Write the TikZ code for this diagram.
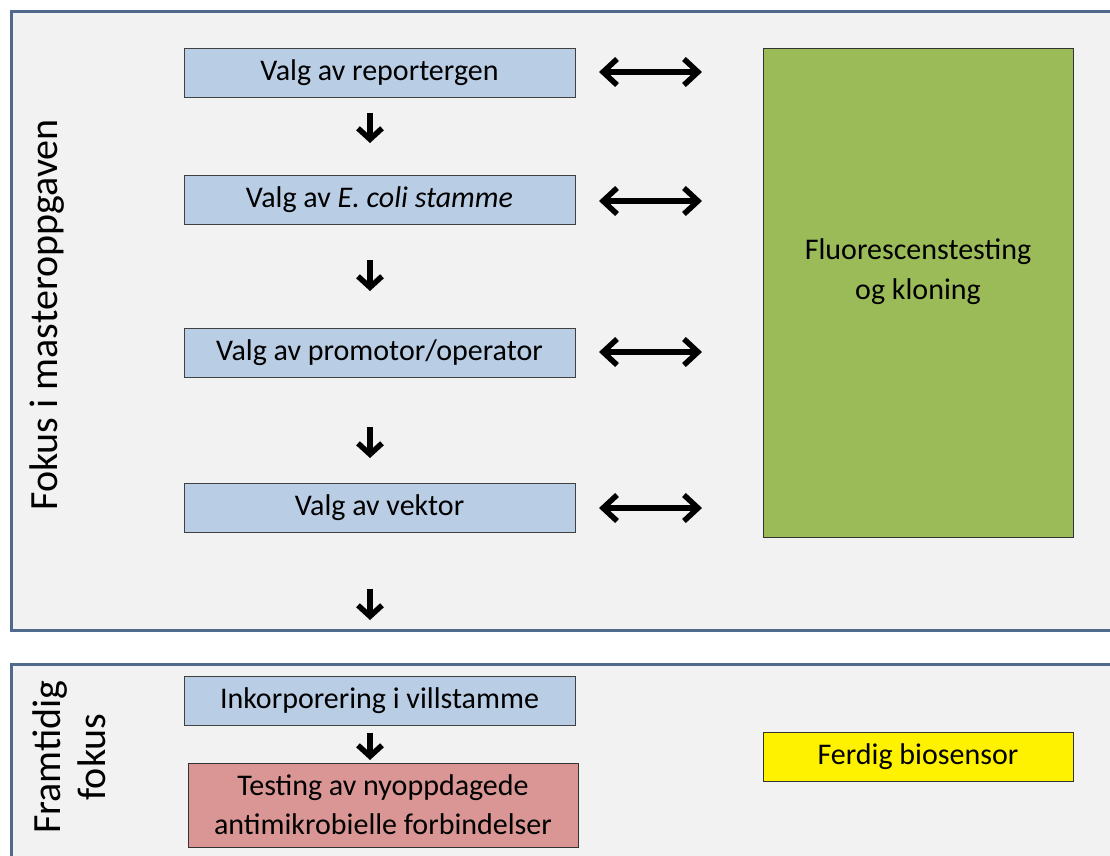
\documentclass[tikz,border=0pt]{standalone}
\usepackage{fontspec}
\setmainfont{Carlito}
\usetikzlibrary{arrows.meta}
\definecolor{frame}{HTML}{4F6A8C}
\definecolor{panel}{HTML}{F2F2F2}
\definecolor{bluebox}{HTML}{B9CDE5}
\definecolor{greenbox}{HTML}{9BBB59}
\definecolor{redbox}{HTML}{D99694}
\tikzset{
  panelbox/.style={draw=frame, line width=3pt, fill=panel},
  stepbox/.style={draw=black!75, line width=0.8pt, fill=bluebox, minimum width=391pt, minimum height=49pt, font=\fontsize{30}{36}\selectfont, inner sep=0pt},
  downarr/.style={-{Straight Barb[length=11pt,width=24pt,line width=5.5pt]}, line width=5.5pt},
  dblarr/.style={{Straight Barb[length=14pt,width=26pt,line width=5.5pt]}-{Straight Barb[length=14pt,width=26pt,line width=5.5pt]}, line width=5.5pt},
  sidelabel/.style={rotate=90, font=\fontsize{40}{40}\selectfont, align=center}
}
\begin{document}
\begin{tikzpicture}[x=1pt,y=-1pt]
\useasboundingbox (0,0) rectangle (1110,855);
\fill[white] (0,0) rectangle (1110,855);
% panels
\draw[panelbox] (11,11) rectangle (1125,630);
\draw[panelbox] (11,664) rectangle (1125,870);
% labels
\node[sidelabel] (lab1) at (47,315) {Fokus i masteroppgaven};
\node[sidelabel, font=\fontsize{40}{45}\selectfont] (lab2) at (69,757) {Framtidig\\fokus};
% steps
\node[stepbox] (s1) at (379.5,72.5) {Valg av reportergen};
\node[stepbox] (s2) at (379.5,200) {Valg av \textit{E. coli stamme}};
\node[stepbox] (s3) at (379.5,352.5) {Valg av promotor/operator};
\node[stepbox] (s4) at (379.5,507.5) {Valg av vektor};
\node[draw=black!80, line width=0.8pt, fill=greenbox, minimum width=310pt, minimum height=489pt, inner sep=0pt] (green) at (918,292.5) {};
\node[font=\fontsize{30}{40}\selectfont, align=center] (gtext) at (918,272) {Fluorescenstesting\\og kloning};
% down arrows
\coordinate (a1s) at (370,113); \coordinate (a1e) at (370,143);
\coordinate (a2s) at (370,260); \coordinate (a2e) at (370,291);
\coordinate (a3s) at (370,427); \coordinate (a3e) at (370,458);
\coordinate (a4s) at (370,589); \coordinate (a4e) at (370,620);
\draw[downarr] (a1s) -- (a1e);
\draw[downarr] (a2s) -- (a2e);
\draw[downarr] (a3s) -- (a3e);
\draw[downarr] (a4s) -- (a4e);
% double arrows
\foreach \y [count=\i] in {72,201,352,508} {
  \coordinate (dl\i) at (599,\y);
  \coordinate (dr\i) at (702,\y);
  \draw[dblarr] (dl\i) -- (dr\i);
}
% lower panel
\node[stepbox] (s5) at (379.5,701) {Inkorporering i villstamme};
\node[draw=black!80, line width=0.8pt, fill=redbox, minimum width=390pt, minimum height=84pt, inner sep=0pt, align=center, font=\fontsize{30}{39}\selectfont] (red) at (383,805) {Testing av nyoppdagede\\antimikrobielle forbindelser};
\coordinate (a5s) at (370,733); \coordinate (a5e) at (370,760);
\draw[downarr] (a5s) -- (a5e);
\node[draw=black!80, line width=0.8pt, fill=yellow, minimum width=310pt, minimum height=49pt, inner sep=0pt, font=\fontsize{30}{36}\selectfont] (yel) at (918,756.5) {Ferdig biosensor};
\end{tikzpicture}
\end{document}
